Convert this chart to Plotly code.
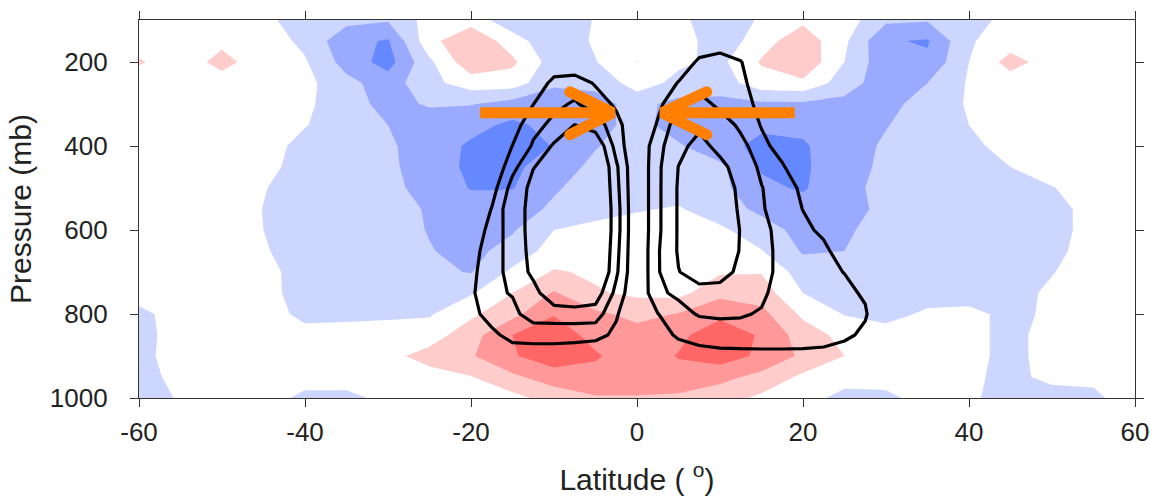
import plotly.graph_objects as go

# ---------------- data ----------------
LAT = [-60, -55, -50, -45, -40, -35, -30, -25, -20, -15, -10, -5, 0,
       5, 10, 15, 20, 25, 30, 35, 40, 45, 50, 55, 60]
PRES = [100, 150, 200, 250, 300, 350, 400, 450, 500, 550, 600, 650, 700,
        750, 800, 850, 900, 950, 1000]

# shaded anomaly field (rows = PRES, cols = LAT)
SHADE = [
    [0, 0, 0, -0.25, -1, -1.2, -1.4, -0.1, 0.1, -1.2, -1, -0.45, 0.2, -0.3, -1, -0.4, 0.3, 0, -1.3, -1.4, -1, -0.1, 0, 0, 0],
    [0, 0, 0.3, 0, -0.72, -2.2, -2.6, 0.2, 1.3, 0, -1.3, -0.34, 0.2, 0.1, -1.2, 0.1, 1.1, -0.3, -2.4, -2.6, -0.6, 0, 0, 0, 0],
    [0.6, 0, 0.8, 0, -0.4, -1.9, -2.9, -0.7, 1.2, 0.7, -1, -0.55, 0.52, -0.3, -0.75, 0.6, 1.3, -0.5, -2.2, -2.3, -0.5, 0.9, 0, 0, 0],
    [0, 0, 0.1, 0, -0.2, -1.2, -2.0, -0.8, 0, 0, -1.3, -1.3, 0, -0.8, -1.0, 0.1, 0.3, -1.0, -2.1, -1.5, -0.4, 0, 0, 0, 0],
    [0, 0, 0, 0, -0.3, -1.1, -1.8, -1.4, -1.45, -1.9, -2.2, -1.8, -1.2, -1.8, -1.8, -1.7, -1.7, -1.8, -1.8, -1.1, -0.4, 0, 0, 0, 0],
    [0, 0, 0, 0, -0.45, -1.0, -1.5, -2.0, -2.2, -2.7, -2.2, -1.8, -1.2, -1.9, -2.1, -2.3, -2.3, -1.9, -1.55, -1.0, -0.5, 0, 0, 0, 0],
    [0, 0, 0, -0.1, -0.8, -1.1, -1.35, -2.0, -2.65, -3.0, -2.45, -1.55, -1.1, -1.4, -2.1, -2.8, -2.6, -2.0, -1.35, -1.0, -0.7, -0.2, 0, 0, 0],
    [0, 0, 0, -0.2, -0.9, -1.1, -1.3, -2.0, -2.7, -2.75, -1.9, -1.3, -1.0, -1.1, -1.3, -2.6, -2.65, -1.9, -1.3, -1.0, -0.9, -0.5, 0, 0, 0],
    [0, 0, 0, -0.45, -0.95, -1.0, -1.2, -1.9, -2.55, -2.55, -1.6, -1.1, -1.0, -1.0, -1.2, -2.3, -2.6, -1.8, -1.2, -1.0, -1.0, -0.9, -0.55, 0, 0],
    [0, 0, 0, -0.52, -1.0, -1.0, -1.1, -1.6, -2.1, -1.9, -1.35, -0.9, -0.6, -0.4, -1.1, -1.7, -2.1, -1.8, -1.3, -1.0, -1.0, -1.0, -0.8, -0.2, 0],
    [0, 0, 0, -0.5, -1.0, -1.0, -1.1, -1.55, -1.9, -1.6, -0.5, -0.2, 0, 0, -0.3, -1.1, -1.8, -1.65, -1.1, -1.0, -1.0, -1.0, -0.8, -0.2, 0],
    [0, 0, 0, -0.4, -1.0, -1.0, -1.1, -1.45, -1.8, -1.1, -0.1, 0.1, 0.2, 0.2, 0, -0.45, -1.6, -1.5, -1.1, -1.0, -1.0, -1.0, -0.75, -0.1, 0],
    [0, 0, 0, -0.2, -0.9, -1.0, -1.1, -1.3, -1.55, -0.3, 0.6, 0.35, 0.3, 0.35, 0.4, 0.45, -1.0, -1.3, -1.0, -1.0, -1.0, -0.9, -0.55, 0, 0],
    [0, 0, 0, -0.1, -1.0, -1.0, -1.0, -1.0, -0.6, 0.5, 1.6, 0.6, 0.3, 0.2, 1.2, 1.0, -0.5, -1.0, -1.0, -1.0, -1.0, -0.9, -0.3, 0, 0],
    [-0.8, 0, 0, 0.2, -0.9, -0.8, -0.7, -0.6, 0.3, 1.2, 2.45, 1.7, 1.2, 1.55, 2.3, 1.8, 0.3, -0.55, -0.9, -0.3, -0.2, -0.8, -0.3, 0, 0],
    [-0.9, 0, 0, 0, 0, 0, 0, 0, 1.1, 2.5, 3.0, 2.2, 1.9, 2.3, 3.0, 2.4, 1.0, 0.2, 0, 0, -0.2, -0.8, -0.1, 0, 0],
    [-0.9, 0.1, 0, 0, 0, 0, 0.2, 0.9, 1.4, 2.4, 3.1, 2.6, 2.0, 2.55, 3.0, 2.3, 1.3, 0.5, 0, 0, -0.2, -0.8, -0.1, 0, 0],
    [-1.0, -0.1, 0, 0, 0, 0, 0, 0.1, 0.45, 1.3, 2.0, 2.2, 2.2, 2.2, 1.8, 1.2, 0.3, 0, 0, 0, -0.3, -0.8, -0.2, -0.3, 0],
    [-1.0, -0.4, 0, 0, -0.8, -0.8, -0.2, 0, 0, 0.2, 0.9, 1.4, 1.4, 1.3, 0.9, 0.3, 0, -0.9, -0.8, 0, -0.3, -1.0, -1.0, -0.7, 0],
]

# mean meridional streamfunction (rows = PRES, cols = PSI_LAT)
PSI_LAT = [-30, -27.5, -25, -22.5, -20, -17.5, -15, -12.5, -10, -7.5, -5, -2.5, 0,
           2.5, 5, 7.5, 10, 12.5, 15, 17.5, 20, 22.5, 25, 27.5, 30, 32.5]
PSI = [
    [0] * 26,
    [0] * 26,
    [0, 0, 0, 0, 0, 0, 0, 0, 0, 0, 0, 0, 0, 0, 0, 1.26, 1.75, 1.06, 0, 0, 0, 0, 0, 0, 0, 0],
    [0, 0, 0, 0, 0, 0, 0, 0, -1.41, -1.6, -0.88, 0, 0, 0, 1.08, 1.5, 1.5, 1.43, 0, 0, 0, 0, 0, 0, 0, 0],
    [0, 0, 0, 0, 0, 0, 0, -0.98, -1.8, -2.1, -1.6, -0.8, 0, 0.77, 1.7, 2.53, 1.66, 1.4, 0.72, 0, 0, 0, 0, 0, 0, 0],
    [0, 0, 0, 0, 0, 0, -0.5, -1.72, -2.22, -3.02, -2.5, -1.41, 0, 1.1, 2.63, 2.8, 2.7, 1.73, 0.94, 0, 0, 0, 0, 0, 0, 0],
    [0, 0, 0, 0, 0, 0, -1.02, -2.12, -3.14, -3.6, -3.95, -1.62, 0, 1.7, 2.7, 3.35, 2.68, 2.4, 1.26, 0.63, 0, 0, 0, 0, 0, 0],
    [0, 0, 0, 0, 0, 0, -1.69, -2.97, -3.35, -4.0, -4.54, -2.17, 0, 1.8, 3.02, 3.5, 3.3, 2.52, 1.85, 1.1, 0.33, 0, 0, 0, 0, 0],
    [0, 0, 0, 0, 0, -0.53, -2.42, -3.25, -3.6, -4.1, -4.63, -2.3, 0, 1.8, 3.1, 3.6, 3.4, 2.84, 2.03, 1.6, 0.75, 0, 0, 0, 0, 0],
    [0, 0, 0, 0, 0, -1.04, -2.82, -3.12, -3.5, -4.0, -4.68, -2.44, 0, 1.8, 3.1, 3.6, 3.45, 2.9, 2.1, 1.51, 0.98, 0, 0, 0, 0, 0],
    [0, 0, 0, 0, 0, -1.49, -2.43, -3.38, -3.6, -4.0, -4.68, -2.44, 0, 1.8, 3.1, 3.6, 3.5, 2.97, 2.4, 1.53, 1.2, 0.82, 0, 0, 0, 0],
    [0, 0, 0, 0, -0.5, -1.66, -2.29, -3.38, -3.7, -4.0, -4.63, -2.3, 0, 1.9, 3.1, 3.6, 3.5, 2.95, 2.4, 1.67, 1.45, 1.2, 0.53, 0, 0, 0],
    [0, 0, 0, 0, -0.7, -1.73, -2.23, -3.26, -3.6, -4.0, -4.54, -2.17, 0, 1.9, 2.97, 3.4, 3.2, 2.88, 2.3, 1.75, 1.5, 1.2, 0.98, 0, 0, 0],
    [0, 0, 0, 0, -0.8, -1.85, -2.05, -2.6, -3.85, -4.0, -3.59, -1.7, 0, 1.85, 2.16, 2.7, 2.8, 2.6, 2.2, 1.55, 1.4, 1.3, 1.2, 0.89, 0, 0],
    [0, 0, 0, 0, -0.6, -1.53, -1.8, -2.36, -2.4, -2.5, -2.5, -1.11, 0, 0.97, 1.7, 2.08, 2.15, 2.1, 1.91, 1.7, 1.5, 1.4, 1.3, 1.1, 0, 0],
    [0, 0, 0, 0, 0, -0.7, -1.45, -1.5, -1.5, -1.4, -1.3, -0.8, 0, 0.5, 1.18, 1.4, 1.5, 1.55, 1.6, 1.6, 1.55, 1.4, 1.2, 0.8, 0, 0],
    [0, 0, 0, 0, 0, -0.1, -0.2, -0.3, -0.3, -0.3, -0.2, -0.1, 0, 0.1, 0.3, 0.6, 0.7, 0.7, 0.7, 0.7, 0.7, 0.7, 0.5, 0.3, 0, 0],
    [0] * 26,
    [0] * 26,
]

LAT_TICKS = [-60, -40, -20, 0, 20, 40, 60]
LAT_LABELS = ["-60", "-40", "-20", "0", "20", "40", "60"]
PRES_TICKS = [200, 400, 600, 800, 1000]

# converging upper-level flow arrows (tail lat, tip lat, barb lat), level in mb
ARROW_TAIL = [-18.9, 19.0]
ARROW_TIP = [-2.9, 3.0]
ARROW_BARB = [-8.1, 8.4]
ARROW_P = 321
ARROW_BARB_P = [271, 373]

# ---------------- colours ----------------
DB, MB, LB, W = "#6688ff", "#99aaff", "#ccd6ff", "#ffffff"
LP, MP, RD = "#ffcccc", "#ff9999", "#ff6666"
cols = [DB, MB, LB, W, LP, MP, RD]
cscale = []
for i, c in enumerate(cols):
    a = 0 if i == 0 else (2 * i - 1) / 12
    b = 1 if i == len(cols) - 1 else (2 * i + 1) / 12
    cscale += [[a, c], [b, c]]

fig = go.Figure()
fig.add_trace(go.Contour(
    x=LAT, y=PRES, z=SHADE, zmin=-3, zmax=3,
    contours=dict(start=-2.5, end=2.5, size=1, coloring="fill", showlines=False),
    line=dict(width=0, smoothing=0), colorscale=cscale, showscale=False,
    hoverinfo="skip"))

for s, e in [(-3, -1), (1, 3)]:
    fig.add_trace(go.Contour(
        x=PSI_LAT, y=PRES, z=PSI,
        contours=dict(start=s, end=e, size=1, coloring="none"),
        line=dict(color="black", width=3.2, smoothing=0),
        showscale=False, hoverinfo="skip"))

ORANGE = "#ff7f00"
for k in range(2):
    fig.add_trace(go.Scatter(
        x=[ARROW_TAIL[k], ARROW_TIP[k]], y=[ARROW_P, ARROW_P], mode="lines",
        line=dict(color=ORANGE, width=11), hoverinfo="skip"))
    fig.add_trace(go.Scatter(
        x=[ARROW_BARB[k], ARROW_TIP[k], ARROW_BARB[k]],
        y=[ARROW_BARB_P[0], ARROW_P, ARROW_BARB_P[1]], mode="lines",
        line=dict(color=ORANGE, width=11), hoverinfo="skip"))
    fig.add_trace(go.Scatter(
        x=[ARROW_BARB[k], ARROW_BARB[k]], y=ARROW_BARB_P, mode="markers",
        marker=dict(color=ORANGE, size=11, line=dict(width=0)), hoverinfo="skip"))

axis_common = dict(ticks="outside", ticklen=8, tickwidth=1.3, tickcolor="#333",
                   showline=True, linecolor="#333", linewidth=1.3, mirror="allticks",
                   showgrid=False, zeroline=False, automargin=False,
                   ticklabeloverflow="allow", tickfont=dict(size=26, color="#222"))
fig.update_xaxes(range=[-60, 60], tickvals=LAT_TICKS, ticktext=LAT_LABELS,
                 ticklabelstandoff=3, **axis_common,
                 title=dict(text="Latitude ( <sup>o</sup>)", font=dict(size=30, color="#222"), standoff=22))
fig.update_yaxes(range=[1000, 100], tickvals=PRES_TICKS, ticklabelstandoff=17, **axis_common,
                 title=dict(text="Pressure (mb)", font=dict(size=30, color="#222"), standoff=9))
fig.update_layout(width=1150, height=499, margin=dict(l=139, r=15, t=20, b=101),
                  plot_bgcolor="white", paper_bgcolor="white", showlegend=False,
                  font=dict(family="Liberation Sans, Arial, Helvetica, sans-serif"))
fig.write_html("out.html", config={"displayModeBar": False},
               post_script="document.body.style.margin='0';document.body.style.overflow='hidden';")
